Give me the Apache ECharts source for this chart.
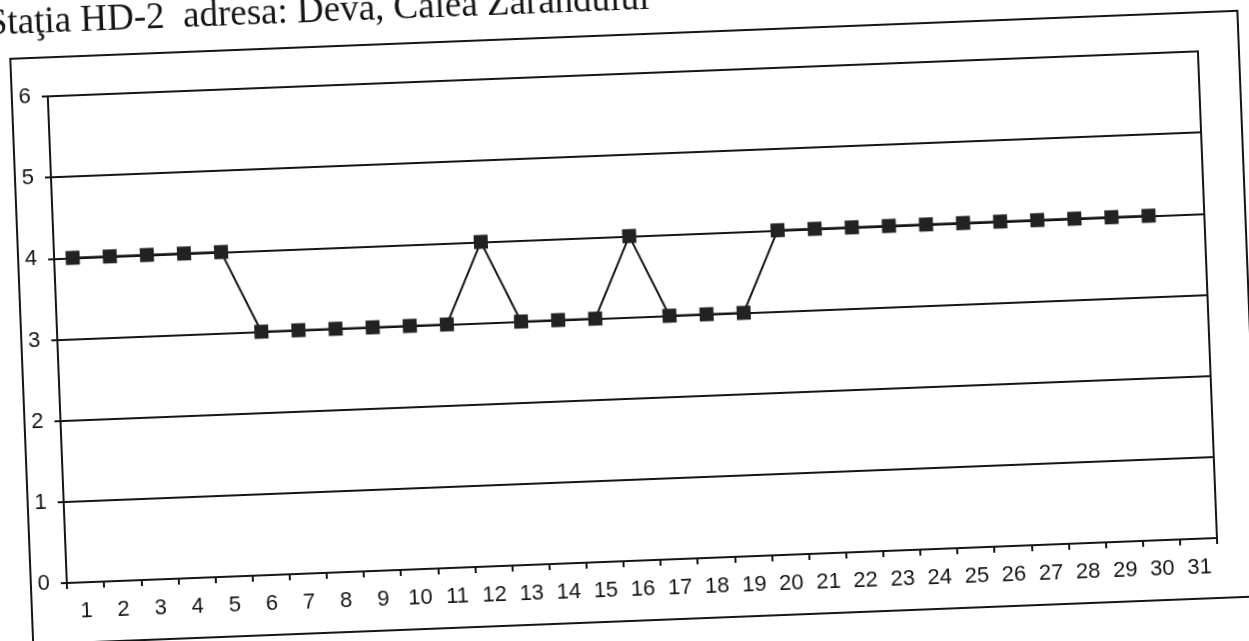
<!DOCTYPE html>
<html>
<head>
<meta charset="utf-8">
<title>Staţia HD-2</title>
<script src="https://cdn.jsdelivr.net/npm/echarts@6/dist/echarts.min.js"></script>
<style>
  html, body { margin: 0; padding: 0; background: #fff; overflow: hidden; }
  /* scanned page is slightly tilted, so the chart box is bigger than the window and rotated */
  #chart {
    position: absolute;
    left: -50px;
    top: -50px;
    width: 1349px;
    height: 741px;
    transform: rotate(-2.24deg);
    transform-origin: 50% 50%;
  }
</style>
</head>
<body>
<div id="chart"></div>
<script>
// data
const titleText = 'Staţia HD-2  adresa: Deva, Calea Zarandului';
const days = ['1', '2', '3', '4', '5', '6', '7', '8', '9', '10', '11', '12', '13', '14', '15', '16',
  '17', '18', '19', '20', '21', '22', '23', '24', '25', '26', '27', '28', '29', '30', '31'];
const values = [4, 4, 4, 4, 4, 3, 3, 3, 3, 3, 3, 4, 3, 3, 3, 4, 3, 3, 3,
  4, 4, 4, 4, 4, 4, 4, 4, 4, 4, 4];
const yTicks = { min: 0, max: 6, interval: 1 };

const ink = '#151515';
const chart = echarts.init(document.getElementById('chart'), null, { renderer: 'canvas' });

chart.setOption({
  animation: false,
  backgroundColor: '#fff',
  title: {
    text: titleText,
    left: 44,
    top: 27,
    textStyle: {
      fontFamily: 'Liberation Serif',
      fontSize: 37,
      fontWeight: 'normal',
      color: ink
    }
  },
  // outer chart border
  graphic: [
    {
      type: 'rect',
      shape: { x: 71, y: 85, width: 1228, height: 586 },
      style: { fill: 'none', stroke: ink, lineWidth: 2 }
    }
  ],
  grid: {
    left: 107,
    top: 124,
    right: 91,
    bottom: 130,
    show: true,
    borderColor: ink,
    borderWidth: 2,
    backgroundColor: 'transparent'
  },
  xAxis: {
    type: 'category',
    data: days,
    boundaryGap: true,
    axisLine: { show: true, lineStyle: { color: ink, width: 2 } },
    axisTick: { show: true, inside: false, length: 6, interval: 0, lineStyle: { color: ink, width: 2 } },
    axisLabel: {
      interval: 0,
      margin: 18,
      fontFamily: 'Liberation Sans',
      fontSize: 22,
      color: ink
    },
    splitLine: { show: false }
  },
  yAxis: {
    type: 'value',
    min: yTicks.min,
    max: yTicks.max,
    interval: yTicks.interval,
    axisLine: { show: true, lineStyle: { color: ink, width: 2 } },
    axisTick: { show: true, inside: false, length: 6, lineStyle: { color: ink, width: 2 } },
    axisLabel: {
      margin: 17,
      fontFamily: 'Liberation Sans',
      fontSize: 22,
      color: ink
    },
    splitLine: { show: true, lineStyle: { color: ink, width: 2 } }
  },
  series: [
    {
      type: 'line',
      data: values,
      symbol: 'rect',
      symbolSize: 14,
      lineStyle: { color: ink, width: 2 },
      itemStyle: { color: '#222', borderWidth: 0 }
    }
  ]
});
</script>
</body>
</html>
